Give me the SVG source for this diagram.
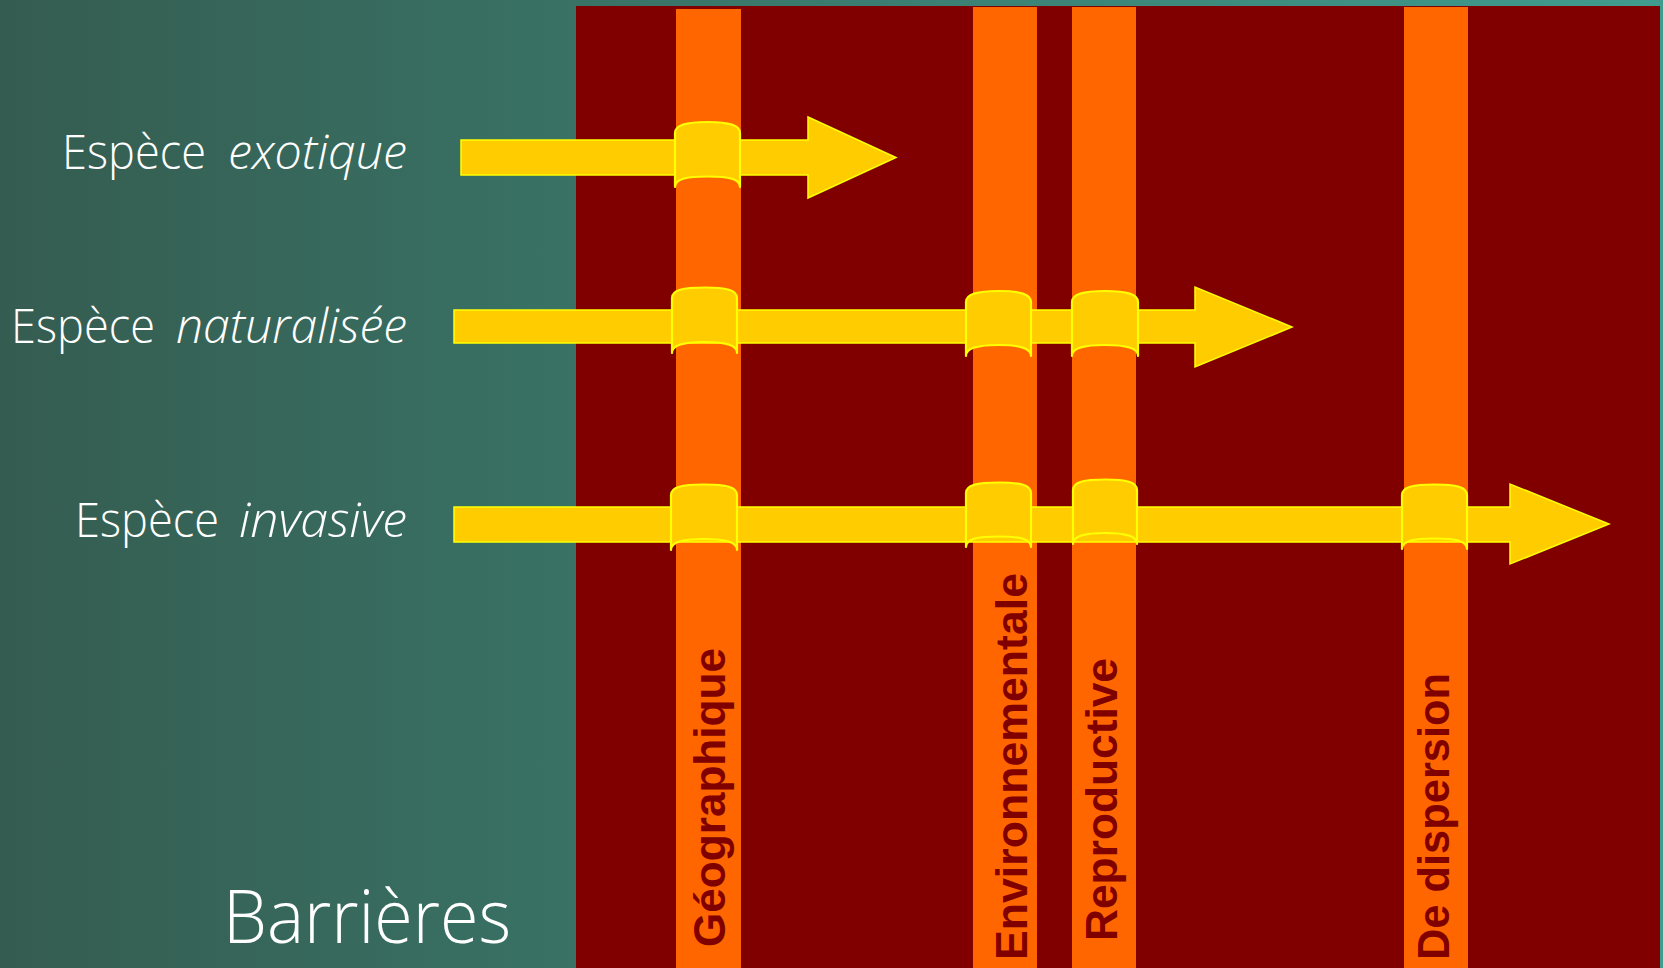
<svg xmlns="http://www.w3.org/2000/svg" width="1663" height="968" viewBox="0 0 1663 968">
<defs>
<linearGradient id="bg" x1="0" y1="0" x2="1" y2="0">
<stop offset="0" stop-color="#355c50"/>
<stop offset="1" stop-color="#409c8e"/>
</linearGradient>
</defs>
<style>
.bar{fill:#ff6600}
.arrow{fill:#ffcc00;stroke:#ffff00;stroke-width:1.5;stroke-linejoin:miter}
.band{fill:#ffcc00;stroke:#ffff00;stroke-width:2.2;stroke-linejoin:round}
.lbl{font-family:"Open Sans","Liberation Sans",sans-serif;font-weight:300;fill:#ffffff;font-size:47px}
.it{font-style:italic}
.vt{font-family:"Liberation Sans",Arial,sans-serif;font-weight:bold;fill:#800000;font-size:44px}
</style>
<rect x="0" y="0" width="1663" height="968" fill="url(#bg)"/>
<rect x="576" y="6" width="1084" height="962" fill="#800000"/>

<g id="bar-geographique">
<rect class="bar" x="676" y="9" width="65" height="959"/>
<text class="vt" transform="translate(725,947) rotate(-90)" textLength="299" lengthAdjust="spacingAndGlyphs">Géographique</text>
</g>
<g id="bar-environnementale">
<rect class="bar" x="973" y="7" width="64" height="961"/>
<text class="vt" transform="translate(1027,960) rotate(-90)" textLength="387" lengthAdjust="spacingAndGlyphs">Environnementale</text>
</g>
<g id="bar-reproductive">
<rect class="bar" x="1072" y="7" width="64" height="961"/>
<text class="vt" transform="translate(1117,941) rotate(-90)" textLength="283" lengthAdjust="spacingAndGlyphs">Reproductive</text>
</g>
<g id="bar-dispersion">
<rect class="bar" x="1404" y="7" width="64" height="961"/>
<text class="vt" transform="translate(1449,960) rotate(-90)" textLength="287" lengthAdjust="spacingAndGlyphs">De dispersion</text>
</g>

<g id="connectors">
<g id="arrow-exotique">
<path class="arrow" d="M461,140 L808,140 L808,117 L896,157.5 L808,198 L808,175 L461,175 Z"/>
<path class="band" d="M675,133 C675,125 686,122 707.5,122 C729,122 740,125 740,133 L740,187 C740,179 729,176.5 707.5,176.5 C686,176.5 675,179 675,187 Z"/>
</g>
<g id="arrow-naturalisee">
<path class="arrow" d="M454,310 L1195,310 L1195,287 L1292,327 L1195,367 L1195,343 L454,343 Z"/>
<path class="band" d="M672,298 C672,290 683,287.5 704.5,287.5 C726,287.5 737,290 737,298 L737,353 C737,345 726,342 704.5,342 C683,342 672,345 672,353 Z"/>
<path class="band" d="M966,302 C966,294 977,291 998.5,291 C1020,291 1031,294 1031,302 L1031,356 C1031,348 1020,345 998.5,345 C977,345 966,348 966,356 Z"/>
<path class="band" d="M1072,302 C1072,294 1083,291 1105,291 C1127,291 1138,294 1138,302 L1138,356 C1138,348 1127,345 1105,345 C1083,345 1072,348 1072,356 Z"/>
</g>
<g id="arrow-invasive">
<path class="arrow" d="M454,507 L1510,507 L1510,484 L1609,524 L1510,564 L1510,542 L454,542 Z"/>
<path class="band" d="M671,495 C671,487 682,484.5 704,484.5 C726,484.5 737,487 737,495 L737,550 C737,542 726,539 704,539 C682,539 671,542 671,550 Z"/>
<path class="band" d="M966,493 C966,485 977,482.5 998.5,482.5 C1020,482.5 1031,485 1031,493 L1031,547 C1031,539 1020,536.5 998.5,536.5 C977,536.5 966,539 966,547 Z"/>
<path class="band" d="M1073,490 C1073,482 1084,479.5 1105,479.5 C1126,479.5 1137,482 1137,490 L1137,544 C1137,536 1126,533 1105,533 C1084,533 1073,536 1073,544 Z"/>
<path class="band" d="M1402,495 C1402,487 1413,484.5 1434.5,484.5 C1456,484.5 1467,487 1467,495 L1467,549 C1467,541 1456,538.5 1434.5,538.5 C1413,538.5 1402,541 1402,549 Z"/>
</g>
</g>

<g id="label-exotique">
<text class="lbl" x="62" y="169" textLength="144" lengthAdjust="spacingAndGlyphs">Espèce</text>
<text class="lbl it" x="228" y="169" textLength="179" lengthAdjust="spacingAndGlyphs">exotique</text>
</g>
<g id="label-naturalisee">
<text class="lbl" x="11" y="343" textLength="144" lengthAdjust="spacingAndGlyphs">Espèce</text>
<text class="lbl it" x="176" y="343" textLength="231" lengthAdjust="spacingAndGlyphs">naturalisée</text>
</g>
<g id="label-invasive">
<text class="lbl" x="75" y="537" textLength="144" lengthAdjust="spacingAndGlyphs">Espèce</text>
<text class="lbl it" x="239" y="537" textLength="168" lengthAdjust="spacingAndGlyphs">invasive</text>
</g>
<g id="title">
<text class="lbl" x="223" y="943" style="font-size:74px" textLength="288" lengthAdjust="spacingAndGlyphs">Barrières</text>
</g>
</svg>
